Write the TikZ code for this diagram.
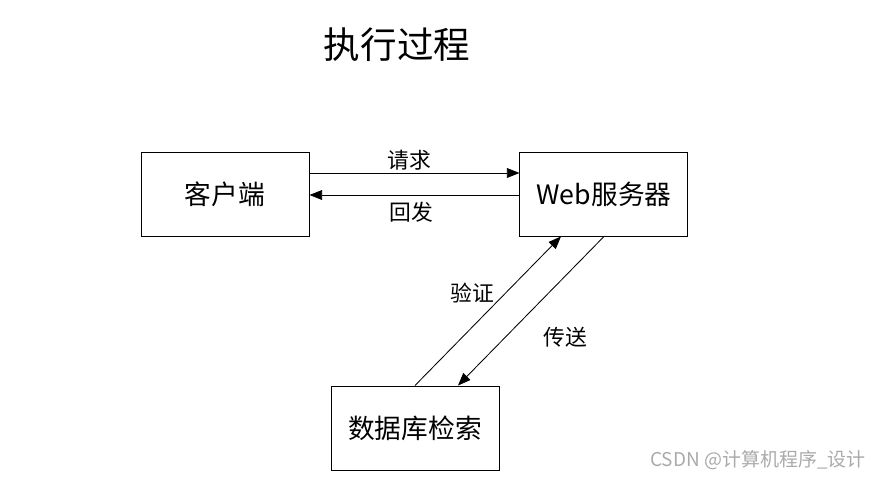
\documentclass[tikz,border=0pt]{standalone}
\usepackage{fontspec}
\setmainfont{Noto Sans CJK SC}
\usetikzlibrary{arrows.meta, positioning}
\definecolor{markgray}{RGB}{170, 170, 170}

\begin{document}
\begin{tikzpicture}[
    box/.style={draw, line width=0.7pt, minimum width=4.2cm, minimum height=2.1cm, font=\fontsize{19}{21}\selectfont, inner sep=0pt},
    arrow/.style={-{Triangle[length=9pt, width=7pt]}, line width=0.6pt},
    lbl/.style={font=\fontsize{15.5}{17}\selectfont}
]
    \useasboundingbox (0,0) rectangle (22.1,11.95);

    % Title
    \node[font=\fontsize{26}{29}\selectfont] (title) at (9.925,10.825) {执行过程};

    % Nodes
    \node[box] (client) at (5.625,7.1) {客户端};
    \node[box, right=5.25cm of client] (web) {Web服务器};
    \node[box] (db) at (10.375,1.25) {数据库检索};

    % Arrows
    \draw[arrow] ([yshift=0.525cm]client.east) -- ([yshift=0.525cm]web.west);
    \draw[arrow] ([yshift=-0.025cm]web.west) -- ([yshift=-0.025cm]client.east);
    \draw[arrow] (db.north) -- ([xshift=-1.075cm]web.south);
    \draw[arrow] (web.south) -- ([xshift=1.075cm]db.north);

    % Labels
    \node[lbl] (req) at (10.225,7.95) {请求};
    \node[lbl] (resp) at (10.275,6.65) {回发};
    \node[lbl] (check) at (11.8,4.625) {验证};
    \node[lbl] (send) at (14.125,3.525) {传送};

    % Watermark
    \node[font=\fontsize{13.5}{15}\selectfont, text=markgray] (mark) at (18.95,0.45) {CSDN @计算机程序\_设计};
\end{tikzpicture}
\end{document}
